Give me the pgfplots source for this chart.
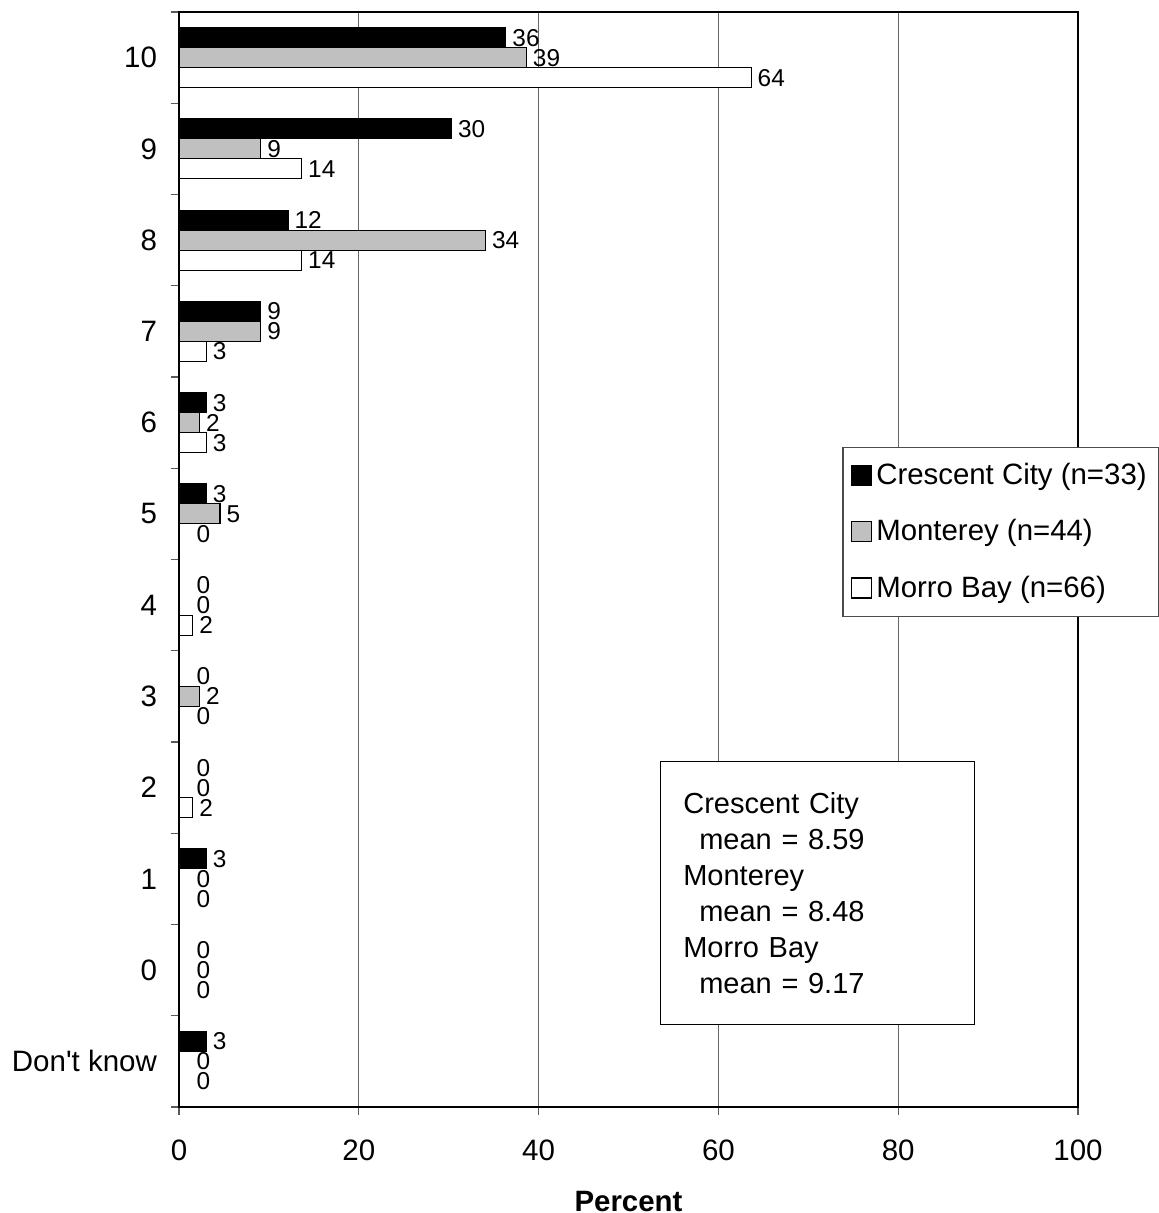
\documentclass[border=0pt]{standalone}
\usepackage{fontspec}
\setmainfont{Liberation Sans}
\usepackage{pgfplots}
\pgfplotsset{compat=1.18}
\definecolor{barsilver}{HTML}{C0C0C0}
\newcommand{\z}{\hspace*{5.5pt}0}
\pgfplotsset{sq legend/.style={legend image code/.code={\draw[##1] (0pt,-5pt) rectangle (10pt,5pt);}}}
\begin{document}
\begin{tikzpicture}
\begin{axis}[
  scale only axis, width=449.5pt, height=547.5pt,
  xbar, bar width=10pt,
  xmin=0, xmax=100, ymin=-0.5, ymax=11.5,
  xtick={0,20,...,100}, ytick={0,...,11},
  yticklabels={Don\textquotesingle t know,0,1,2,3,4,5,6,7,8,9,10},
  minor xtick={0,20,...,100}, minor ytick={-0.5,0.5,...,11.5},
  major tick length=0pt, minor tick length=4pt, tick align=outside,
  tick pos=left,
  minor tick style={draw=gray!70!black, line width=0.6pt},
  xmajorgrids, grid style={draw=gray!80!black, line width=0.5pt},
  axis line style={line width=1pt},
  /pgf/number format/assume math mode=true,
  tick label style={font=\fontsize{14.75}{16}\selectfont},
  yticklabel style={xshift=-7.5pt},
  xticklabel style={yshift=-13pt},
  xlabel={\textbf{Percent}},
  xlabel style={font=\fontsize{14.7}{16}\selectfont, inner sep=1pt, yshift=-10.5pt},
  point meta=explicit symbolic,
  nodes near coords,
  nodes near coords style={font=\fontsize{12.2}{14}\selectfont, anchor=west, inner sep=3pt},
  clip=false,
  legend cell align=left,
  legend style={at={(rel axis cs:0.738,0.603)}, anchor=north west,
    draw=gray!60!black, line width=0.6pt, fill=white,
    font=\fontsize{14.7}{16}\selectfont, row sep=12pt, inner xsep=4pt, inner ysep=6pt},
]
\addplot[fill=black, draw=black, line width=0.6pt, bar shift=10pt, sq legend]
  coordinates {(36.36,11)[36] (30.30,10)[30] (12.12,9)[12] (9.09,8)[9] (3.03,7)[3] (3.03,6)[3]
               (0,5)[\z] (0,4)[\z] (0,3)[\z] (3.03,2)[3] (0,1)[\z] (3.03,0)[3]};
\addlegendentry{Crescent City (n=33)}
\addplot[fill=barsilver, draw=black, line width=0.6pt, bar shift=0pt, sq legend]
  coordinates {(38.64,11)[39] (9.09,10)[9] (34.09,9)[34] (9.09,8)[9] (2.27,7)[2] (4.55,6)[5]
               (0,5)[\z] (2.27,4)[2] (0,3)[\z] (0,2)[\z] (0,1)[\z] (0,0)[\z]};
\addlegendentry{Monterey (n=44)}
\addplot[fill=white, draw=black, line width=0.6pt, bar shift=-10pt, sq legend]
  coordinates {(63.64,11)[64] (13.64,10)[14] (13.64,9)[14] (3.03,8)[3] (3.03,7)[3] (0,6)[\z]
               (1.52,5)[2] (0,4)[\z] (1.52,3)[2] (0,2)[\z] (0,1)[\z] (0,0)[\z]};
\addlegendentry{Morro Bay (n=66)}
\node[draw=black, line width=0.8pt, fill=white, anchor=north west,
  minimum width=157pt, minimum height=131.5pt, text width=134pt,
  inner xsep=11.5pt, align=left, font=\fontsize{14.5}{18}\selectfont]
  at (rel axis cs:0.5345,0.3163)
  {Crescent City\\\hspace*{8pt}mean = 8.59\\Monterey\\\hspace*{8pt}mean = 8.48\\Morro Bay\\\hspace*{8pt}mean = 9.17};
\end{axis}
\pgfresetboundingbox
\useasboundingbox (-89.5pt,-53pt) rectangle (490pt,553.5pt);
\end{tikzpicture}
\end{document}
